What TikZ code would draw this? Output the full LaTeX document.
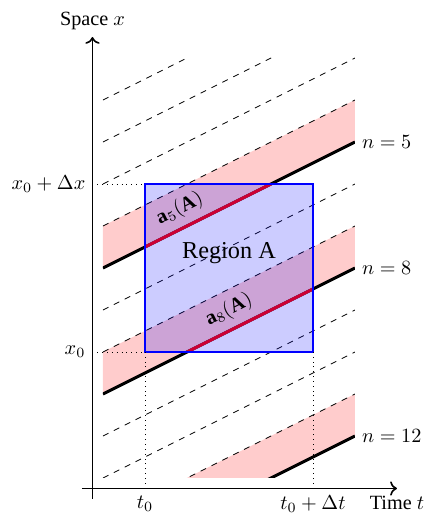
\documentclass[tikz,border=0pt]{standalone}
\usepackage{fontspec}
\setmainfont{Liberation Serif}
\usetikzlibrary{arrows.meta,positioning,calc}
\definecolor{bandred}{HTML}{FFCCCC}
\definecolor{hitred}{HTML}{FF0000}
\definecolor{regblue}{HTML}{0000FF}
\tikzset{
  axis style/.style={->, thick},
  band style/.style={fill=bandred},
  dash style/.style={dashed, thin},
  wl style/.style={line width=1.5pt},
  hit style/.style={line width=1.5pt, hitred},
  box style/.style={draw=regblue, very thick, fill=regblue, fill opacity=0.2},
  tag style/.style={rotate=26.57}
}
\begin{document}
\begin{tikzpicture}[x=0.73cm, y=0.73cm]
\useasboundingbox (-2.452,-0.929) rectangle (7.786,11.381);
\begin{scope}
\clip (0,0) rectangle (6,10);
\foreach \n in {5,8,12}
  \fill[band style] (0,10-\n) -- (6,13-\n) -- (6,14-\n) -- (0,11-\n) -- cycle;
\foreach \n in {1,...,11}
  \draw[dash style] (0,10-\n) -- (6,13-\n);
\foreach \n in {5,8,12}
  \draw[wl style] (0,10-\n) -- (6,13-\n) coordinate (end\n);
\end{scope}
\coordinate (Asw) at (1,3);
\coordinate (Ane) at (5,7);
\draw[hit style] (1,5.5) -- (4,7);
\draw[hit style] (2,3) -- (5,4.5);
\draw[box style] (Asw) rectangle (Ane);
\node[tag style] (a5) at (1.83,6.415) {$\mathbf{a}_5(\mathbf{A})$};
\node[tag style] (a8) at (3,4) {$\mathbf{a}_8(\mathbf{A})$};
\node[font=\large] (regA) at (3,5.35) {Region A};
\draw[axis style] (-0.5,-0.25) -- (7,-0.25) node[below] (tlabel) {Time $t$};
\draw[axis style] (-0.25,-0.5) -- (-0.25,10.5) node[above] (xlabel) {Space $x$};
\coordinate (ytop) at (-0.25,7);
\coordinate (ybot) at (-0.25,3);
\coordinate (xl) at (1,-0.25);
\coordinate (xr) at (5,-0.25);
\draw[dotted] (ytop) -- (1,7);
\draw[dotted] (ybot) -- (Asw);
\draw[dotted] (xl) -- (Asw);
\draw[dotted] (xr) -- (5,3);
\node[left] (x0dx) at (ytop) {$x_0+\Delta x$};
\node[left] (x0) at (ybot) {$x_0$};
\node[below] (t0) at (xl) {$t_0$};
\node[below] (t0dt) at (xr) {$t_0+\Delta t$};
\node[right] (n5) at (6,8) {$n=5$};
\node[right] (n8) at (6,5) {$n=8$};
\node[right] (n12) at (6,1) {$n=12$};
\end{tikzpicture}
\end{document}
